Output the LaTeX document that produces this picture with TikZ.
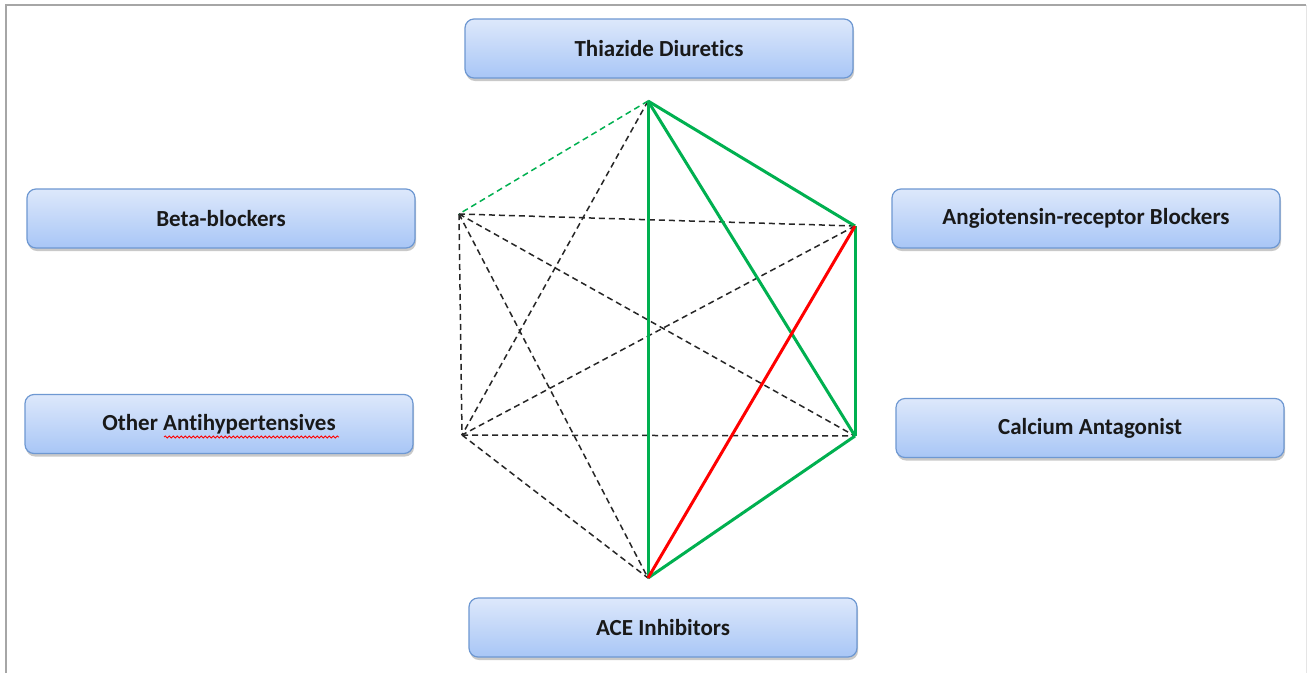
\documentclass[tikz,border=0pt]{standalone}
\usepackage{fontspec}
\setmainfont{Carlito}[Ligatures=NoCommon]
\usetikzlibrary{shadows,decorations.pathmorphing}
\definecolor{boxtop}{HTML}{DDE8FB}
\definecolor{boxbot}{HTML}{A8C6F6}
\definecolor{boxline}{HTML}{6E98D2}
\definecolor{officegreen}{HTML}{00B050}
\definecolor{framegray}{HTML}{A6A6A6}
\tikzset{
  drug/.style={draw=boxline, line width=1.2pt, rounded corners=9pt,
    top color=boxtop, bottom color=boxbot,
    minimum width=388pt, minimum height=59pt, inner sep=0pt,
    font=\fontsize{23}{27}\selectfont\bfseries, text=black!90,
    drop shadow={shadow xshift=1pt, shadow yshift=-3pt, opacity=0.35, fill=black!60}},
  good/.style={draw=officegreen, line width=3pt},
  bad/.style={draw=red, line width=3pt},
  maybe/.style={draw=officegreen, line width=1.5pt, dash pattern=on 6pt off 4pt},
  none/.style={draw=black!85, line width=1.5pt, dash pattern=on 6pt off 4pt},
  spell/.style={draw=red, line width=0.8pt, decorate,
    decoration={snake, amplitude=1pt, segment length=4pt}},
}
\begin{document}
\begin{tikzpicture}[x=1pt, y=-1pt]
\useasboundingbox (0,0) rectangle (1307,673);
\fill[white] (0,0) rectangle (1307,673);
\draw[framegray, line width=2pt] (6,673) -- (6,5) -- (1306,5);
\draw[black!10, line width=1pt] (1306,5) -- (1306,673);

\node[drug] (thz) at (659,48.5) {Thiazide Diuretics};
\node[drug] (bet) at (221,218.5) {Beta-blockers};
\node[drug] (oth) at (219,424) {Other Antihypertensives};
\node[drug] (arb) at (1086,218.5) {Angiotensin-receptor Blockers};
\node[drug] (cal) at (1090,428) {Calcium Antagonist};
\node[drug] (ace) at (663,627.5) {ACE Inhibitors};

\coordinate (sp1) at (164,437);
\coordinate (sp2) at (339,437);
\draw[spell] (sp1) -- (sp2);

\coordinate (T) at (648,101);
\coordinate (B) at (459,214);
\coordinate (A) at (855,226);
\coordinate (O) at (462,435);
\coordinate (C) at (855,436);
\coordinate (E) at (648,578);

\draw[none] (T) -- (O);
\draw[none] (B) -- (A);
\draw[none] (B) -- (C);
\draw[none] (B) -- (O);
\draw[none] (B) -- (E);
\draw[none] (A) -- (O);
\draw[none] (O) -- (C);
\draw[none] (O) -- (E);
\draw[maybe] (T) -- (B);

\draw[good] (T) -- (E);
\draw[good] (T) -- (A);
\draw[good] (T) -- (C);
\draw[good] (A) -- (C);
\draw[good] (C) -- (E);
\draw[bad] (A) -- (E);
\end{tikzpicture}
\end{document}
